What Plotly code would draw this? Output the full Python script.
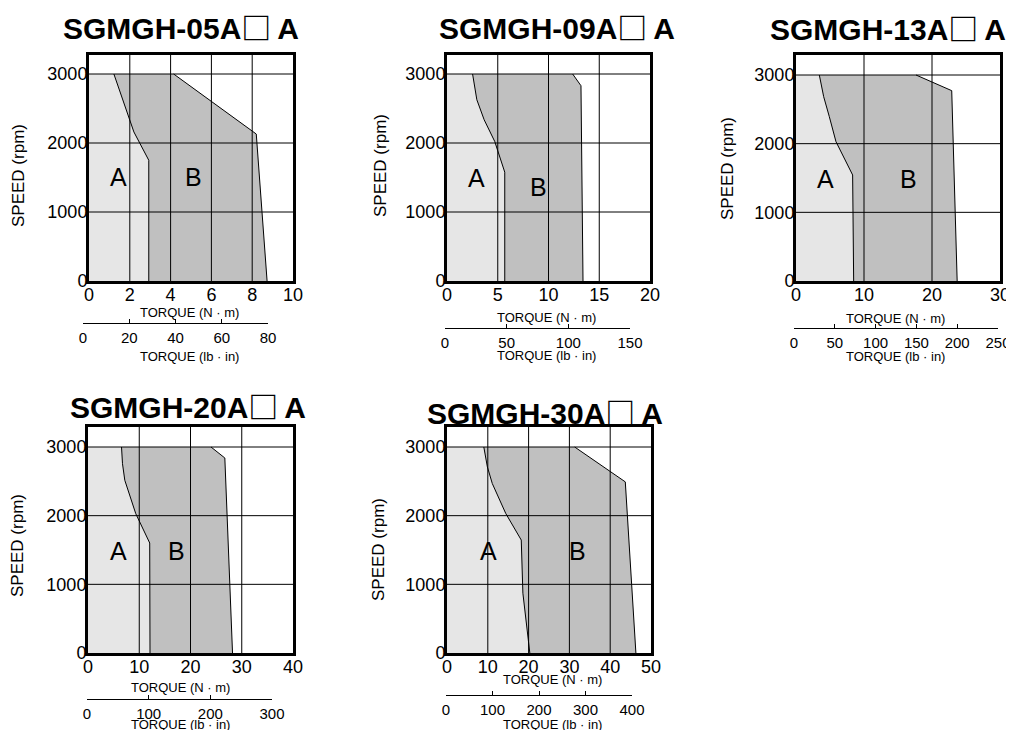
import plotly.graph_objects as go

W, H = 1014, 738
OFF = 8  # page body margin of the html page
FONT = "Arial, 'Liberation Sans', sans-serif"

# ---------------- data ----------------
model_prefix = ["SGMGH-05A", "SGMGH-09A", "SGMGH-13A", "SGMGH-20A", "SGMGH-30A"]
model_suffix = "A"

nm_max = [10, 20, 30, 40, 50]
nm_step = [2, 5, 10, 10, 10]
lbin_max = [80, 150, 250, 300, 400]
lbin_step = [20, 50, 50, 100, 100]
speed_ticks = [0, 1000, 2000, 3000]

# Region A boundary (continuous duty zone)
a05_torque = [1.22, 2.2, 2.93, 2.93]
a05_speed = [3000, 2160, 1750, 0]
a09_torque = [2.52, 2.94, 3.66, 4.7, 5.69, 5.69]
a09_speed = [3000, 2627, 2337, 2023, 1577, 0]
a13_torque = [3.43, 4.07, 4.9, 5.88, 8.33, 8.48]
a13_speed = [3000, 2684, 2393, 2029, 1544, 0]
a20_torque = [6.54, 6.73, 7.18, 9.32, 12.04, 12.1]
a20_speed = [3000, 2757, 2515, 2029, 1602, 0]
a30_torque = [9.02, 9.9, 11.1, 14.4, 18.2, 18.6, 20.3]
a30_speed = [3000, 2710, 2468, 2032, 1645, 871, 0]

# Region B boundary (intermittent duty zone)
b05_torque = [4.15, 8.2, 8.73]
b05_speed = [3000, 2130, 0]
b09_torque = [12.38, 13.2, 13.4]
b09_speed = [3000, 2830, 0]
b13_torque = [17.65, 22.9, 23.7]
b13_speed = [3000, 2772, 0]
b20_torque = [24.0, 26.7, 28.2]
b20_speed = [3000, 2840, 0]
b30_torque = [31.3, 43.7, 46.3]
b30_speed = [3000, 2492, 0]

a_torque = [a05_torque, a09_torque, a13_torque, a20_torque, a30_torque]
a_speed = [a05_speed, a09_speed, a13_speed, a20_speed, a30_speed]
b_torque = [b05_torque, b09_torque, b13_torque, b20_torque, b30_torque]
b_speed = [b05_speed, b09_speed, b13_speed, b20_speed, b30_speed]

# zone label positions (torque, speed)
label_a = [(1.46, 1507), (2.9, 1490), (4.3, 1490), (6.0, 1486), (10.2, 1490)]
label_b = [(5.1, 1507), (9.0, 1360), (16.5, 1490), (17.3, 1486), (32.0, 1490)]

# ---------------- layout geometry (pixels in the page) ----------------
boxes = [  # left, right, top, bottom, y-pixel of 3000 rpm
    (89, 293, 55, 281, 74),
    (447, 650, 55, 281, 74),
    (796, 1000, 55, 281, 75),
    (88, 293, 427, 653, 447),
    (447, 651, 427, 653, 447),
]
sec = [  # secondary (lb·in) axis: x0, x1, line y
    (83, 268, 323),
    (445, 630, 328),
    (794, 998, 328),
    (87, 272, 699),
    (446, 632, 695),
]
title_pos = [(181, 26), (557, 26), (888, 27), (188, 405), (545, 411)]
speed_pos = [(18, 176), (380, 166), (727, 169), (17, 546), (378, 550)]
nm_title_pos = [(189, 312), (546, 317), (895, 318), (180, 687), (552, 679)]
lb_title_pos = [(189, 357), (546, 355), (895, 357), (180, 724), (552, 724)]

LIGHT = "#e6e6e6"
DARK = "#c0c0c0"

FW, FH = W - OFF, H - 2 * OFF

fig = go.Figure()
layout = dict(
    width=FW, height=FH, margin=dict(l=0, r=0, t=0, b=0, autoexpand=False),
    paper_bgcolor="white", plot_bgcolor="white", showlegend=False,
    font=dict(family=FONT, color="black"),
)
annotations = []


def px_x(p):
    return (p - OFF) / FW


def px_y(p):
    return 1 - (p - OFF) / FH


for i in range(5):
    sfx = "" if i == 0 else str(i + 1)
    xa, ya = "x" + sfx, "y" + sfx
    l, r, t, b, y3 = boxes[i]
    ymax = 3000 + (y3 - t) / (b - y3) * 3000
    xmax = nm_max[i]

    fig.add_trace(go.Scatter(
        x=[0, 0] + b_torque[i], y=[0, 3000] + b_speed[i], mode="lines",
        fill="toself", fillcolor=DARK, line=dict(width=0), xaxis=xa, yaxis=ya,
        hoverinfo="skip"))
    fig.add_trace(go.Scatter(
        x=[0, 0] + a_torque[i], y=[0, 3000] + a_speed[i], mode="lines",
        fill="toself", fillcolor=LIGHT, line=dict(width=0), xaxis=xa, yaxis=ya,
        hoverinfo="skip"))
    gx, gy = [], []
    xt = list(range(0, xmax + 1, nm_step[i]))
    for v in xt[1:-1]:
        gx += [v, v, None]
        gy += [0, ymax, None]
    for v in speed_ticks[1:]:
        gx += [0, xmax, None]
        gy += [v, v, None]
    fig.add_trace(go.Scatter(x=gx, y=gy, mode="lines",
                             line=dict(color="black", width=1),
                             xaxis=xa, yaxis=ya, hoverinfo="skip"))
    fig.add_trace(go.Scatter(x=a_torque[i], y=a_speed[i], mode="lines",
                             line=dict(color="black", width=1),
                             xaxis=xa, yaxis=ya, hoverinfo="skip"))
    fig.add_trace(go.Scatter(x=b_torque[i], y=b_speed[i], mode="lines",
                             line=dict(color="black", width=1),
                             xaxis=xa, yaxis=ya, hoverinfo="skip"))

    layout["xaxis" + sfx] = dict(
        domain=[px_x(l), px_x(r)], range=[0, xmax], tickvals=xt,
        showgrid=False, zeroline=False, showline=True, mirror=True,
        linewidth=3, linecolor="black", ticks="", anchor=ya, automargin=False,
        ticklabelstandoff=-5,
        tickfont=dict(size=18, family=FONT, color="black"), fixedrange=True)
    layout["yaxis" + sfx] = dict(
        domain=[px_y(b), px_y(t)], range=[0, ymax], tickvals=speed_ticks,
        showgrid=False, zeroline=False, showline=True, mirror=True,
        linewidth=3, linecolor="black", ticks="", anchor=xa, automargin=False,
        ticklabelstandoff=-5,
        tickfont=dict(size=18, family=FONT, color="black"), fixedrange=True)

    k = str(6 + i)
    x0, x1, ly = sec[i]
    fig.add_trace(go.Scatter(x=[0], y=[0], mode="markers", marker=dict(opacity=0),
                             xaxis="x" + k, yaxis="y" + k, hoverinfo="skip"))
    layout["xaxis" + k] = dict(
        domain=[px_x(x0), px_x(x1)], range=[0, lbin_max[i]],
        tickvals=list(range(0, lbin_max[i] + 1, lbin_step[i])),
        showgrid=False, zeroline=False, showline=True, linewidth=1,
        linecolor="black", ticks="inside", ticklen=4, tickcolor="black",
        anchor="y" + k, ticklabelstandoff=1, automargin=False,
        tickfont=dict(size=15, family=FONT, color="black"), fixedrange=True)
    layout["yaxis" + k] = dict(domain=[px_y(ly), px_y(ly - 6)], visible=False,
                               anchor="x" + k, fixedrange=True, automargin=False)

    tx, ty = title_pos[i]
    title = ("<b>" + model_prefix[i] +
             "<span style=\"font-family:'Noto Sans CJK JP';font-weight:bold\">□</span>\u2009"
             + model_suffix + "</b>")
    annotations.append(dict(text=title, x=px_x(tx), y=px_y(ty),
                            xref="paper", yref="paper", showarrow=False,
                            xanchor="center", yanchor="middle",
                            font=dict(size=30, family=FONT, color="black")))
    sx, sy = speed_pos[i]
    annotations.append(dict(text="SPEED (rpm)", x=px_x(sx), y=px_y(sy),
                            xref="paper", yref="paper", showarrow=False,
                            textangle=-90, xanchor="center", yanchor="middle",
                            font=dict(size=17, family=FONT, color="black")))
    nx, ny = nm_title_pos[i]
    annotations.append(dict(text="TORQUE (N · m)", x=px_x(nx), y=px_y(ny),
                            xref="paper", yref="paper", showarrow=False,
                            xanchor="center", yanchor="middle",
                            font=dict(size=13, family=FONT, color="black")))
    bx, by = lb_title_pos[i]
    annotations.append(dict(text="TORQUE (lb · in)", x=px_x(bx), y=px_y(by),
                            xref="paper", yref="paper", showarrow=False,
                            xanchor="center", yanchor="middle",
                            font=dict(size=13, family=FONT, color="black")))
    for lab, (lx, lyv) in (("A", label_a[i]), ("B", label_b[i])):
        annotations.append(dict(text=lab, x=lx, y=lyv, xref=xa, yref=ya,
                                showarrow=False, xanchor="center", yanchor="middle",
                                font=dict(size=25, family=FONT, color="black")))

layout["annotations"] = annotations
fig.update_layout(**layout)
fig.write_html("out.html")
